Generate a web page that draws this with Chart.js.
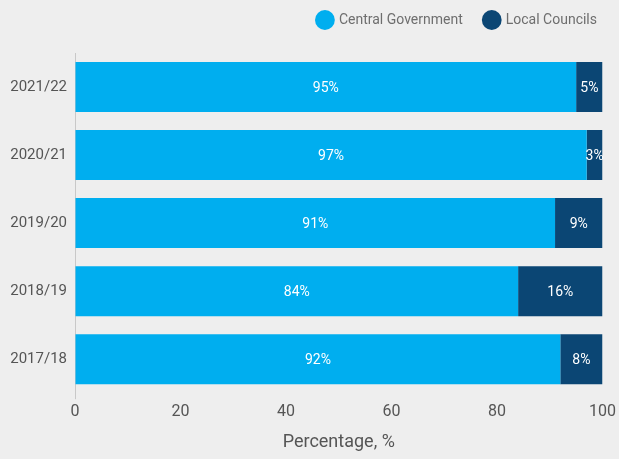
<!DOCTYPE html>
<html>
<head>
<meta charset="utf-8">
<script src="https://cdn.jsdelivr.net/npm/chart.js@4.4.1/dist/chart.umd.min.js"></script>
<style>
  html, body { margin: 0; padding: 0; background: #eeeeee; }
  #wrap { width: 619px; height: 459px; }
</style>
</head>
<body>
<div id="wrap"><canvas id="barChart"></canvas></div>
<script>
const years = ['2021/22', '2020/21', '2019/20', '2018/19', '2017/18'];
const centralGov = [95, 97, 91, 84, 92];
const localCouncils = [5, 3, 9, 16, 8];
const xTicks = [0, 20, 40, 60, 80, 100];

const fontFam = "'Roboto', sans-serif";

// white % labels in the middle of each segment
const segLabels = {
  id: 'segLabels',
  afterDatasetsDraw(chart) {
    const c = chart.ctx;
    c.save();
    c.fillStyle = '#ffffff';
    c.font = '14px ' + fontFam;
    c.textAlign = 'center';
    c.textBaseline = 'middle';
    chart.data.datasets.forEach((ds, i) => {
      chart.getDatasetMeta(i).data.forEach((bar, j) => {
        const x = (bar.x + bar.base) / 2;
        c.fillText(ds.data[j] + '%', x, bar.y + 1);
      });
    });
    c.restore();
  }
};

// extra gap under the legend
const legendGap = {
  id: 'legendGap',
  beforeInit(chart) {
    const fit = chart.legend.fit;
    chart.legend.fit = function () {
      fit.bind(chart.legend)();
      this.height += 16;
    };
  }
};

const ctx = document.getElementById('barChart').getContext('2d');
const barChart = new Chart(ctx, {
  type: 'bar',
  data: {
    labels: years,
    datasets: [{
      label: 'Central Government',
      data: centralGov,
      backgroundColor: '#00aeef',
      borderWidth: 0,
      categoryPercentage: 0.735,
      barPercentage: 1
    }, {
      label: 'Local Councils',
      data: localCouncils,
      backgroundColor: '#0b4674',
      borderWidth: 0,
      categoryPercentage: 0.735,
      barPercentage: 1
    }]
  },
  options: {
    indexAxis: 'y',
    responsive: true,
    maintainAspectRatio: false,
    animation: false,
    layout: { padding: { left: 0, right: 0, top: -9, bottom: 4 } },
    plugins: {
      tooltip: { enabled: false },
      legend: {
        position: 'top',
        align: 'end',
        labels: {
          usePointStyle: true,
          pointStyle: 'circle',
          boxWidth: 18,
          boxHeight: 18,
          padding: 22,
          color: '#6e6e6e',
          font: { family: fontFam, size: 14 }
        }
      }
    },
    scales: {
      x: {
        stacked: true,
        min: 0,
        max: 100,
        afterBuildTicks: axis => { axis.ticks = xTicks.map(v => ({ value: v })); },
        grid: {
          drawOnChartArea: false,
          tickLength: 6,
          color: c => (c.tick && c.tick.value === 0 ? '#c8c8c8' : 'rgba(0,0,0,0)')
        },
        border: { display: false },
        ticks: { color: '#555555', padding: 3, font: { family: fontFam, size: 16 } },
        title: {
          display: true,
          text: 'Percentage, %',
          color: '#555555',
          font: { family: fontFam, size: 18 },
          padding: { top: 7, bottom: 2 }
        }
      },
      y: {
        stacked: true,
        afterFit: axis => { axis.width = 75; },
        grid: { display: false, drawTicks: false },
        border: { display: true, color: '#c8c8c8', width: 1 },
        ticks: { color: '#555555', padding: 8, font: { family: fontFam, size: 15 } }
      }
    }
  },
  plugins: [segLabels, legendGap]
});
</script>
</body>
</html>
